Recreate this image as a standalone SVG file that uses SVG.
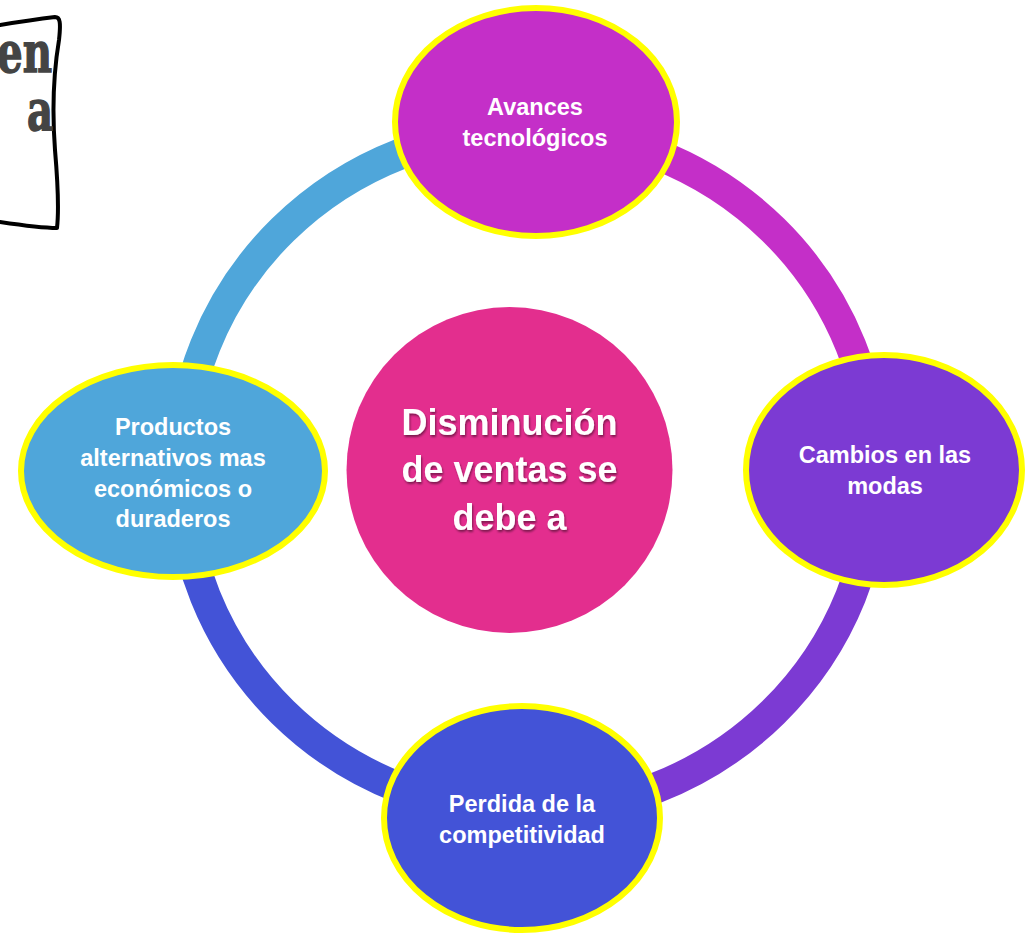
<svg xmlns="http://www.w3.org/2000/svg" width="1025" height="934" viewBox="0 0 1025 934">
<defs>
<style>
.arc{fill:none;stroke-width:31}
.node{stroke:#FFFF00;stroke-width:6}
.lbl{font-family:"Liberation Sans",Arial,sans-serif;font-weight:bold;font-size:23.5px;fill:#FFFFFF;text-anchor:middle}
.big{font-family:"Liberation Sans",Arial,sans-serif;font-weight:bold;font-size:36px;fill:#FFFFFF;text-anchor:middle}
.corner{font-family:"DejaVu Serif",serif;font-weight:bold;font-size:56px;fill:#444444;stroke:#444444;stroke-width:1.5;text-anchor:end}
</style>
<filter id="sh" x="-10%" y="-10%" width="120%" height="130%">
<feDropShadow dx="1" dy="2" stdDeviation="1.2" flood-color="#000000" flood-opacity="0.45"/>
</filter>
</defs>
<rect width="1025" height="934" fill="#FFFFFF"/>

<g id="corner-box">
<path d="M0,25 C18,22 38,19 55,17 C60,17 61,22 59,40 C54,70 52,110 55,150 C58,185 59,210 57,228 C40,228 20,225 0,222" fill="none" stroke="#000000" stroke-width="4" stroke-linejoin="round" stroke-linecap="round"/>
<text class="corner" transform="translate(52,72) scale(0.72,1)">en</text>
<text class="corner" transform="translate(53,130) scale(0.72,1)">a</text>
</g>

<g id="connectors">
<path class="arc" stroke="#4FA6DA" d="M181,471 A347,341 0 0 1 528,130"/>
<path class="arc" stroke="#C42FC8" d="M528,130 A347,341 0 0 1 875,471"/>
<path class="arc" stroke="#7C3AD3" d="M875,471 A347,341 0 0 1 528,812"/>
<path class="arc" stroke="#4353D7" d="M528,812 A347,341 0 0 1 181,471"/>
</g>

<g id="center">
<circle cx="509.5" cy="470" r="163" fill="#E32E8E"/>
<g filter="url(#sh)">
<text class="big" x="509.5" y="435">Disminución</text>
<text class="big" x="509.5" y="482">de ventas se</text>
<text class="big" x="509.5" y="530">debe a</text>
</g>
</g>

<g id="node-top">
<ellipse class="node" cx="536" cy="122" rx="141" ry="114" fill="#C42FC8"/>
<text class="lbl" x="535" y="115">Avances</text>
<text class="lbl" x="535" y="146">tecnológicos</text>
</g>

<g id="node-right">
<ellipse class="node" cx="884" cy="470" rx="138" ry="115" fill="#7C3AD3"/>
<text class="lbl" x="885" y="463">Cambios en las</text>
<text class="lbl" x="885" y="494">modas</text>
</g>

<g id="node-bottom">
<ellipse class="node" cx="522" cy="818" rx="138" ry="112" fill="#4353D7"/>
<text class="lbl" x="522" y="812">Perdida de la</text>
<text class="lbl" x="522" y="843">competitividad</text>
</g>

<g id="node-left">
<ellipse class="node" cx="173" cy="471" rx="152" ry="106" fill="#4FA6DA"/>
<text class="lbl" x="173" y="435">Productos</text>
<text class="lbl" x="173" y="466">alternativos mas</text>
<text class="lbl" x="173" y="497">económicos o</text>
<text class="lbl" x="173" y="527">duraderos</text>
</g>
</svg>
